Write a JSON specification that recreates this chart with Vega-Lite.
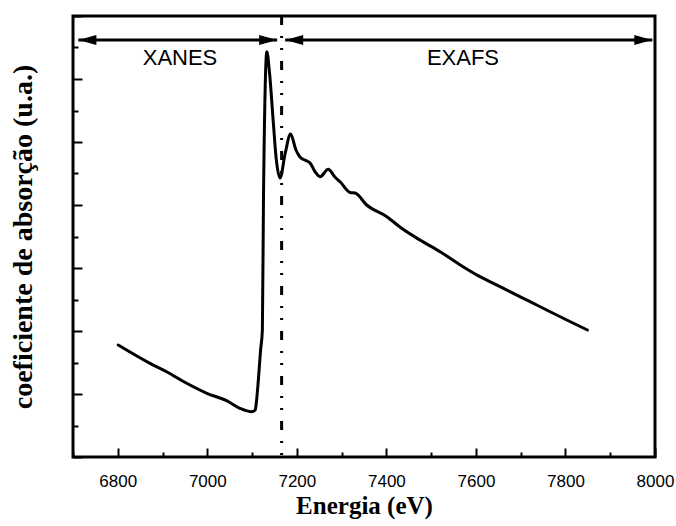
{
  "$schema": "https://vega.github.io/schema/vega-lite/v6.json",
  "width": 582,
  "height": 441,
  "autosize": "none",
  "padding": {"left": 73, "top": 16, "right": 21, "bottom": 69},
  "background": "white",
  "config": {"view": {"stroke": "black", "strokeWidth": 3}},
  "resolve": {"axis": {"x": "independent", "y": "independent"}},
  "datasets": {
    "spectrum": [
      {"E": 6801, "mu": 1.778}, {"E": 6872, "mu": 1.487}, {"E": 6909, "mu": 1.354},
      {"E": 6954, "mu": 1.17}, {"E": 6999, "mu": 1.011}, {"E": 7043, "mu": 0.894},
      {"E": 7073, "mu": 0.773}, {"E": 7099, "mu": 0.719}, {"E": 7107, "mu": 0.746},
      {"E": 7109, "mu": 0.83}, {"E": 7114, "mu": 1.222}, {"E": 7119, "mu": 1.698},
      {"E": 7123, "mu": 2.016}, {"E": 7125.5, "mu": 4.127}, {"E": 7133, "mu": 6.433},
      {"E": 7139, "mu": 6.095}, {"E": 7147.5, "mu": 5.302}, {"E": 7153.5, "mu": 4.762},
      {"E": 7162.5, "mu": 4.429}, {"E": 7174, "mu": 4.821}, {"E": 7186, "mu": 5.127},
      {"E": 7198, "mu": 4.873}, {"E": 7207, "mu": 4.762}, {"E": 7218, "mu": 4.714},
      {"E": 7229.5, "mu": 4.667}, {"E": 7241, "mu": 4.524}, {"E": 7252, "mu": 4.449},
      {"E": 7270, "mu": 4.567}, {"E": 7285, "mu": 4.444}, {"E": 7297, "mu": 4.365},
      {"E": 7319, "mu": 4.198}, {"E": 7330, "mu": 4.19}, {"E": 7356, "mu": 4.0},
      {"E": 7401, "mu": 3.814}, {"E": 7434, "mu": 3.63}, {"E": 7475, "mu": 3.444},
      {"E": 7520, "mu": 3.259}, {"E": 7565, "mu": 3.048}, {"E": 7609, "mu": 2.862},
      {"E": 7639, "mu": 2.757}, {"E": 7676, "mu": 2.624}, {"E": 7721, "mu": 2.465},
      {"E": 7758, "mu": 2.333}, {"E": 7803, "mu": 2.175}, {"E": 7849, "mu": 2.016}
    ],
    "arrows": [
      {"E1": 6712, "E2": 7156, "y": 6.619},
      {"E1": 7174, "E2": 7994, "y": 6.619}
    ],
    "headsLeft": [{"E": 6712, "y": 6.619}, {"E": 7174, "y": 6.619}],
    "headsRight": [{"E": 7156, "y": 6.619}, {"E": 7994, "y": 6.619}],
    "labels": [
      {"E": 6939, "y": 6.333, "text": "XANES"},
      {"E": 7571, "y": 6.333, "text": "EXAFS"}
    ],
    "edge": [{"E": 7166}]
  },
  "layer": [
    {
      "data": {"name": "spectrum"},
      "mark": {"type": "line", "color": "black", "strokeWidth": 3, "interpolate": "monotone", "strokeJoin": "round", "strokeCap": "round"},
      "encoding": {
        "x": {
          "field": "E", "type": "quantitative",
          "scale": {"domain": [6700, 8000], "nice": false, "zero": false},
          "axis": {
            "orient": "bottom",
            "title": "Energia (eV)",
            "values": [6800, 7000, 7200, 7400, 7600, 7800, 8000],
            "format": "d",
            "labelFlush": false,
            "labelOverlap": false,
            "domain": false,
            "grid": false,
            "tickColor": "black",
            "tickWidth": 2,
            "tickSize": -9,
            "labelFont": "Liberation Sans",
            "labelFontSize": 17,
            "labelColor": "black",
            "labelPadding": 25,
            "titleFont": "Liberation Serif",
            "titleFontWeight": "bold",
            "titleFontSize": 25,
            "titleColor": "black",
            "titlePadding": 4
          }
        },
        "y": {
          "field": "mu", "type": "quantitative",
          "scale": {"domain": [0, 7], "nice": false, "zero": false},
          "axis": {
            "orient": "left",
            "title": "coeficiente de absorção (u.a.)",
            "values": [0, 1, 2, 3, 4, 5, 6, 7],
            "labels": false,
            "domain": false,
            "grid": false,
            "tickColor": "black",
            "tickWidth": 2,
            "tickSize": -9,
            "titleFont": "Liberation Serif",
            "titleFontWeight": "bold",
            "titleFontSize": 28,
            "titleColor": "black",
            "titlePadding": 35
          }
        }
      }
    },
    {
      "data": {"name": "arrows"},
      "mark": {"type": "rule", "color": "black", "strokeWidth": 3},
      "encoding": {
        "x": {
          "field": "E1", "type": "quantitative",
          "axis": {
            "orient": "bottom",
            "title": null,
            "values": [6700, 6900, 7100, 7300, 7500, 7700, 7900],
            "labels": false,
            "domain": false,
            "grid": false,
            "tickColor": "black",
            "tickWidth": 2,
            "tickSize": -5
          }
        },
        "x2": {"field": "E2"},
        "y": {
          "field": "y", "type": "quantitative",
          "axis": {
            "orient": "left",
            "title": null,
            "values": [0.5, 1.5, 2.5, 3.5, 4.5, 5.5, 6.5],
            "labels": false,
            "domain": false,
            "grid": false,
            "tickColor": "black",
            "tickWidth": 2,
            "tickSize": -5
          }
        }
      }
    },
    {
      "data": {"name": "edge"},
      "mark": {"type": "rule", "color": "black", "strokeWidth": 3, "strokeDash": [9, 11, 2, 10, 2, 11], "strokeCap": "butt"},
      "encoding": {"x": {"field": "E", "type": "quantitative", "axis": null}}
    },
    {
      "data": {"name": "headsLeft"},
      "mark": {"type": "point", "shape": "M0,0L2,-0.55L2,0.55Z", "filled": true, "color": "black", "opacity": 1, "size": 324, "strokeWidth": 0},
      "encoding": {
        "x": {"field": "E", "type": "quantitative", "axis": null},
        "y": {"field": "y", "type": "quantitative", "axis": null}
      }
    },
    {
      "data": {"name": "headsRight"},
      "mark": {"type": "point", "shape": "M0,0L-2,-0.55L-2,0.55Z", "filled": true, "color": "black", "opacity": 1, "size": 324, "strokeWidth": 0},
      "encoding": {
        "x": {"field": "E", "type": "quantitative", "axis": null},
        "y": {"field": "y", "type": "quantitative", "axis": null}
      }
    },
    {
      "data": {"name": "labels"},
      "mark": {"type": "text", "font": "Liberation Sans", "fontSize": 22, "color": "black", "baseline": "middle", "align": "center"},
      "encoding": {
        "x": {"field": "E", "type": "quantitative", "axis": null},
        "y": {"field": "y", "type": "quantitative", "axis": null},
        "text": {"field": "text"}
      }
    }
  ]
}
